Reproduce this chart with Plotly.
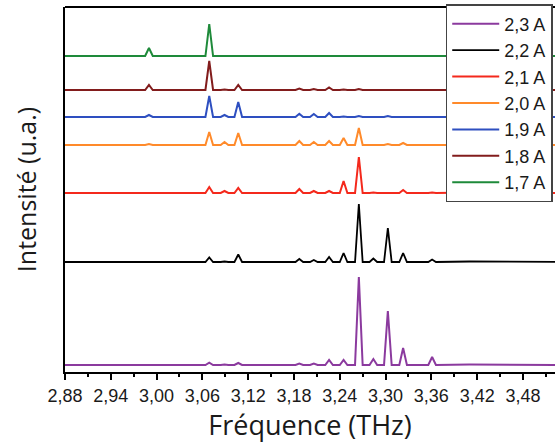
import plotly.graph_objects as go

# Frequency grid (THz)
freq = [2.880, 2.950, 2.985, 2.990, 2.995, 3.030, 3.064, 3.069, 3.074, 3.084,
        3.089, 3.094, 3.102, 3.107, 3.112, 3.150, 3.182, 3.187, 3.192, 3.201,
        3.206, 3.211, 3.221, 3.226, 3.231, 3.240, 3.245, 3.250, 3.260, 3.265,
        3.270, 3.279, 3.284, 3.289, 3.298, 3.303, 3.308, 3.318, 3.323, 3.328,
        3.356, 3.361, 3.366, 3.410, 3.530]

# Intensities (u.a.) for each current
i_23 = [0, 0, 0, 0.7, 0, 0, 0, 2.3, 0, 0, 0.5, 0, 0, 2, 0, 0, 0, 1.5, 0, 0,
        1.5, 0, 0, 5, 0, 0, 5, 0, 0, 88, 0, 0, 6, 0, 0, 54, 0, 0, 17, 0,
        0, 8, 0, 0.5, 0]
i_22 = [0, 0, 0, 0.5, 0, 0, 0, 4.5, 0, 0, 0.5, 0, 0, 7.5, 0, 0, 0, 3, 0, 0,
        2, 0, 0, 5, 0, 0, 9, 0, 0, 58, 0, 0, 3.5, 0, 0, 34, 0, 0, 9, 0,
        0, 2.5, 0, 0.5, 0]
i_21 = [0, 0, 0, 0.3, 0, 0, 0, 6, 0, 0, 2, 0, 0, 5, 0, 0, 0, 4, 0, 0,
        2, 0, 0, 2, 0, 0, 12, 0, 0, 36, 0, 0, 0.5, 0, 0, 0.5, 0, 0, 3, 0,
        0, 0.5, 0, 0.5, 0]
i_20 = [0, 0, 0, 1, 0, 0, 0, 13, 0, 0, 3, 0, 0, 12, 0, 0, 0, 4, 0, 0,
        3, 0, 0, 4, 0, 0, 7, 0, 0, 17, 0, 0, 0, 0, 0, 1, 0, 0, 2, 0,
        0, 0, 0, 0, 0]
i_19 = [0, 0, 0, 2, 0, 0, 0, 21, 0, 0, 2, 0, 0, 15, 0, 0, 0, 3.3, 0, 0,
        3, 0, 0, 4, 0, 0, 0.5, 0, 0, 1, 0, 0, 0, 0, 0, 1, 0, 0, 0, 0,
        0, 0, 0, 0, 0]
i_18 = [0, 0.5, 0, 5, 0, 0, 0, 29, 0, 0, 0.5, 0, 0, 5, 0, 0, 0, 1.5, 0, 0,
        1, 0, 0, 2.5, 0, 0, 0.5, 0, 0, 1, 0, 0, 0, 0, 0, 0, 0, 0, 0, 0,
        0, 0, 0, 0, 0]
i_17 = [0, 0.5, 0, 8, 0, 0, 0, 32, 0, 0, 0, 0, 0, 0.5, 0, 0, 0, 0, 0, 0,
        0, 0, 0, 0, 0, 0, 0, 0, 0, 0, 0, 0, 0, 0, 0, 0, 0, 0, 0, 0,
        0, 0, 0, 0, 0]

series_names = ["2,3 A", "2,2 A", "2,1 A", "2,0 A", "1,9 A", "1,8 A", "1,7 A"]
series_vals = [i_23, i_22, i_21, i_20, i_19, i_18, i_17]
offsets = [7, 110, 179, 227, 255, 282, 316]
colors = ["#8B3A9E", "#000000", "#F4291C", "#FF8A2A", "#2E4FC0", "#821C1C", "#1E8A3A"]
widths = [2, 1.8, 2, 2, 2, 2, 2]

x_ticks = [2.88, 2.94, 3.00, 3.06, 3.12, 3.18, 3.24, 3.30, 3.36, 3.42, 3.48]
x_tick_labels = ["2,88", "2,94", "3,00", "3,06", "3,12", "3,18", "3,24", "3,30", "3,36", "3,42", "3,48"]
x_minor = [2.91, 2.97, 3.03, 3.09, 3.15, 3.21, 3.27, 3.33, 3.39, 3.45, 3.51]

fig = go.Figure()
for name, vals, off, col, w in zip(series_names, series_vals, offsets, colors, widths):
    fig.add_trace(go.Scatter(
        x=freq, y=[v + off for v in vals], mode="lines", name=name,
        line=dict(color=col, width=w),
    ))

fig.update_layout(
    width=555, height=443,
    margin=dict(l=65, r=0, t=7, b=71),
    plot_bgcolor="white", paper_bgcolor="white",
    showlegend=True,
    legend=dict(
        x=0.777, y=1.008, xanchor="left", yanchor="top",
        bgcolor="white", bordercolor="#444", borderwidth=1.5,
        font=dict(family="Liberation Sans, Arial", size=18, color="#1a1a1a"),
        traceorder="normal", tracegroupgap=0, itemwidth=47,
    ),
    xaxis=dict(
        range=[2.88, 3.522],
        tickvals=x_ticks, ticktext=x_tick_labels,
        ticks="outside", ticklen=6, tickwidth=2, tickcolor="black",
        minor=dict(tickvals=x_minor, ticks="outside", ticklen=3, tickwidth=1.5, tickcolor="black"),
        showline=True, linecolor="black", linewidth=2,
        showgrid=False, zeroline=False,
        tickfont=dict(family="Liberation Sans, Arial", size=18, color="#1a1a1a"),
        title=dict(text="Fréquence (THz)", standoff=6,
                   font=dict(family="Open Sans", size=27, color="#1a1a1a")),
    ),
    yaxis=dict(
        range=[0, 365],
        showticklabels=False, ticks="",
        showline=True, linecolor="black", linewidth=2,
        showgrid=False, zeroline=False,
        title=dict(text="Intensité (u.a.)", standoff=19,
                   font=dict(family="Open Sans", size=25, color="#1a1a1a")),
    ),
    shapes=[dict(type="line", xref="paper", yref="paper", x0=0, x1=1, y0=1, y1=1,
                 line=dict(color="black", width=2))],
)

fig.write_html("out.html", config={"displayModeBar": False},
               post_script="document.body.style.margin='0';document.body.style.overflow='hidden';")
